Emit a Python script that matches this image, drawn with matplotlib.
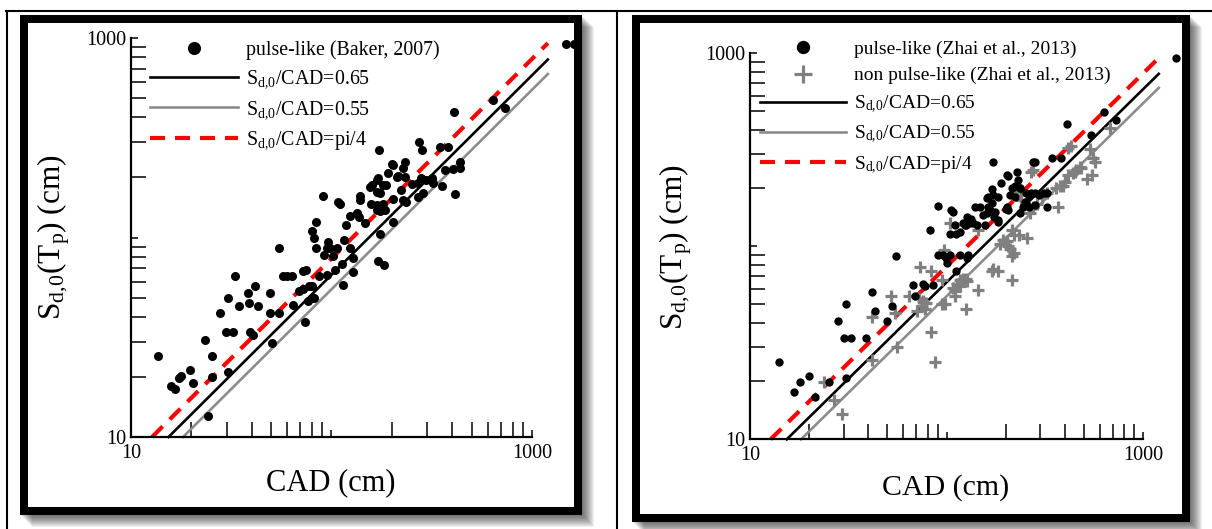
import numpy as np
import matplotlib
matplotlib.use('Agg')
import matplotlib.pyplot as plt
from matplotlib.patches import Rectangle
from matplotlib.lines import Line2D
from matplotlib.ticker import LogLocator, NullFormatter

plt.rcParams['font.family'] = ['Liberation Serif', 'DejaVu Serif']
plt.rcParams['mathtext.fontset'] = 'custom'
plt.rcParams['mathtext.rm'] = 'Liberation Serif'
plt.rcParams['mathtext.it'] = 'Liberation Serif:italic'

# ---- data (CAD in cm, Sd,0(Tp) in cm) ----
baker_cad = [13.7, 15.9, 16.6, 17.4, 17.8, 19.7, 20.4, 24.2, 23.4, 25.3, 25.3, 27.8, 29.8, 32.4,
             30.6, 30.4, 33.0, 34.6, 38.2, 38.9, 39.2, 40.5, 41.5, 43.1, 49.3, 49.3, 50.6, 54.9,
             54.7, 57.0, 59.8, 63.4, 64.1, 68.9, 72.4, 72.0, 75.0, 73.8, 76.6, 79.7, 82.0, 77.4,
             79.7, 79.7, 81.8, 83.7, 83.4, 86.7, 91.1, 91.8, 96.3, 98.3, 102, 106.4, 94.6, 94.6,
             104, 108, 110, 113, 115, 114, 118, 124, 124, 128.5, 128.5, 134, 137, 147, 139, 139,
             156, 160, 168, 175, 168, 157, 168, 181, 168, 175, 185, 171, 181, 188, 175, 171, 183,
             191, 201, 202, 203, 211, 215, 223, 228, 236, 228, 233, 251, 270, 281, 297, 316, 320,
             354, 270, 286, 413, 368, 403, 437, 437, 1479, 1620, 637, 733, 410, 274, 282, 347,
             380, 173, 203, 233]
baker_sd = [25.6, 18.1, 17.5, 19.8, 20.3, 21.7, 18.7, 12.7, 30.6, 25.6, 20.1, 42.0, 33.7, 33.7,
            50.0, 21.1, 64.0, 45.5, 53.0, 47.0, 33.5, 32.4, 57.0, 45.5, 53.0, 42.0, 29.7, 89.0,
            42.0, 64.0, 64.0, 64.0, 46.0, 54.0, 55.0, 68.0, 69.0, 37.6, 48.0, 50.0, 50.0, 57.0,
            57.0, 108, 99, 119, 89, 64, 162, 82, 95, 89, 81, 89, 89, 65,
            69, 151, 148, 74, 97, 58, 116, 128, 89, 79, 67, 133, 127, 118, 162, 154,
            180, 183, 170, 167, 194, 148, 146, 148, 137, 135, 137, 198, 183, 183, 104, 76, 73,
            211, 233, 119, 156, 202, 204, 173, 155, 151, 222, 240, 185, 187, 198, 194, 198, 187,
            181, 160, 167, 165, 218, 220, 222, 240, 929, 929, 489, 448, 427, 302, 275, 285,
            285, 275, 230, 202]

zhai_p_cad = [14.0, 16.7, 17.9, 20.0, 21.4, 25.2, 30.8, 28.1, 30.8, 30.2, 32.6, 38.9, 41.8, 43.2,
              49.6, 52.5, 55.3, 67.6, 69.1, 75.6, 77.6, 82.8, 90.6, 90.6, 95.4, 100.6, 104, 104,
              105, 108, 112, 117, 121, 126, 131.5, 136, 142, 117, 129, 139, 148, 157, 160, 166,
              171, 163, 160, 172, 183, 177, 183, 172, 190, 202, 202, 206, 210, 222, 222, 236,
              227, 250, 246, 410, 632, 723, 542, 276, 282, 344, 382, 1468, 205, 230, 215, 235,
              170, 163, 153, 175, 182, 200, 235, 252, 262, 268, 281, 295, 313, 324, 252, 262,
              281, 324, 127, 133, 110, 111, 124, 99, 127, 85]
zhai_p_sd = [25, 17.6, 19.9, 21.3, 16.6, 19.9, 20.8, 41, 50, 33.5, 33.5, 33.5, 58, 46,
             41, 49, 89, 63, 55, 64, 62, 121, 161, 90, 90, 82, 90, 116,
             154, 150, 74, 118, 131, 128, 131, 131, 128, 90, 90, 160, 160, 128, 148, 154,
             168, 180, 177, 185, 180, 151, 137, 274, 212, 234, 160, 154, 185, 180, 204, 200,
             243, 170, 160, 427, 492, 451, 377, 274, 274, 285, 285, 942, 230, 221, 200, 200,
             197, 160, 145, 142, 134, 155, 148, 189, 181, 189, 189, 185, 189, 189, 167, 160,
             164, 160, 142, 139, 128, 116, 128, 87, 87, 63]

zhai_np_cad = [23.8, 26.8, 29.3, 41.5, 41.8, 52.1, 54.6, 55.7, 64.7, 73.2, 83, 71, 74.6, 78.5,
               77.6, 83, 87.3, 94.5, 98.2, 97, 107.5, 110.3, 112.3, 117, 121.5, 126, 126, 144,
               145, 104, 172, 183, 194, 202, 206, 214, 220, 219, 214, 234, 255, 222, 227, 240,
               265, 276, 287, 305, 323, 367, 377, 400, 415, 440, 457, 485, 515, 546, 569, 275,
               414, 431, 536, 557, 678, 477, 450, 390, 362, 270, 95, 72.4, 75.8, 187, 210, 215,
               170, 127, 117, 110]
zhai_np_sd = [19.9, 16.0, 13.6, 43, 25.7, 55, 45, 30, 55, 78, 74, 46, 49, 51,
              47, 36, 25, 67, 50, 96, 61, 58.5, 64, 67, 68, 68, 47, 59,
              121, 131, 76, 74, 108, 106, 100, 121, 114, 92, 67, 114, 110, 192, 185, 174,
              148, 160, 166, 180, 188, 160, 204, 216, 234, 239, 248, 253, 222, 234, 274, 248,
              322, 329, 317, 285, 408, 258, 242, 204, 200, 243, 50, 54, 52, 103, 97, 89,
              74, 66, 62, 55]

ratios = [0.65, 0.55, np.pi / 4]
ratio_names = ['0.65', '0.55', 'pi/4']
line_end = 1200

W, H = 1212, 529


def fx(x):
    return x / W


def fy(y):
    return 1 - y / H


fig = plt.figure(figsize=(W / 100, H / 100), dpi=100)

# table lines
for xs, ys in [([6, W], [11, 11]), ([7, 7], [11, H]), ([617, 617], [11, H])]:
    fig.add_artist(Line2D([fx(v) for v in xs], [fy(v) for v in ys], color='black',
                          lw=1.5, transform=fig.transFigure))


def frame(x0, y0, x1, y1, t=8):
    for i in range(1, 13):
        fig.add_artist(Rectangle((fx(x0 + i), fy(y1 + i)), (x1 - x0) / W, (y1 - y0) / H,
                                 transform=fig.transFigure, facecolor='black', edgecolor='none',
                                 alpha=0.06, zorder=-3))
    fig.add_artist(Rectangle((fx(x0), fy(y1)), (x1 - x0) / W, (y1 - y0) / H,
                             transform=fig.transFigure, facecolor='white', edgecolor='none',
                             zorder=-2))
    fig.add_artist(Rectangle((fx(x0 + t / 2), fy(y1 - t / 2)), (x1 - x0 - t) / W, (y1 - y0 - t) / H,
                             transform=fig.transFigure, fill=False, edgecolor='black',
                             lw=t * 0.72, joinstyle='miter', zorder=3))


frame(20, 15, 582, 515)
frame(632, 15, 1190, 522)


def setup(ax):
    ax.set_xscale('log')
    ax.set_yscale('log')
    ax.set_xlim(10, 1700)
    ax.set_ylim(10, 1000)
    ax.patch.set_alpha(0)
    for s in ['top', 'right']:
        ax.spines[s].set_visible(False)
    for s in ['left', 'bottom']:
        ax.spines[s].set_linewidth(1.6)
    ax.spines['bottom'].set_bounds(10, 1000)
    ax.set_xticks([10, 100, 1000])
    ax.set_xticklabels(['10', '', '1000'])
    ax.set_yticks([10, 100, 1000])
    ax.set_yticklabels(['10', '', '1000'])
    for axis in [ax.xaxis, ax.yaxis]:
        axis.set_minor_locator(LogLocator(base=10, subs=np.arange(2, 10)))
        axis.set_minor_formatter(NullFormatter())
    ax.tick_params(which='both', direction='in', width=1.1, labelsize=14.5)
    ax.tick_params(which='major', length=5)
    ax.tick_params(which='minor', length=11)
    ax.tick_params(axis='x', pad=5)
    ax.tick_params(axis='y', pad=3)


def draw_lines(ax):
    hs = []
    styles = [dict(color='black', lw=1.9),
              dict(color='#8c8c8c', lw=1.9),
              dict(color='#ff0000', lw=3.0, dashes=(3.6, 2.4))]
    for r, name, st in zip(ratios, ratio_names, styles):
        x = np.array([10 / r, line_end])
        h, = ax.plot(x, r * x, clip_on=False,
                     label=r'$\mathrm{S_{d,\!0}}$/CAD=' + name, **st)
        hs.append(h)
    return hs


# left panel
ax1 = fig.add_axes([fx(131), fy(437), 447.2 / W, 399 / H])
setup(ax1)
lh = draw_lines(ax1)
p1, = ax1.plot(baker_cad, baker_sd, 'o', color='black', ms=6.5, mec='none', clip_on=False,
               label='pulse-like (Baker, 2007)')
ax1.legend([p1] + lh, [h.get_label() for h in [p1] + lh], loc='upper left',
           bbox_to_anchor=(fx(150), fy(40)), bbox_transform=fig.transFigure,
           frameon=False, borderpad=0, borderaxespad=0, handlelength=4.43,
           handletextpad=0.4, labelspacing=0.45, fontsize=14.3, numpoints=1, markerscale=1.45)
fig.text(fx(331), fy(483), 'CAD (cm)', fontsize=22, ha='center', va='center')
fig.text(fx(54), fy(237), r'$\mathrm{S_{d,\!0}(T_p)}$ (cm)', fontsize=22.5, rotation=90,
         ha='center', va='center')

# right panel
ax2 = fig.add_axes([fx(750), fy(439.3), 438.5 / W, 386.3 / H])
setup(ax2)
rh = draw_lines(ax2)
p2, = ax2.plot(zhai_np_cad, zhai_np_sd, '+', color='#808080', ms=8, mew=2.3, clip_on=False,
               label='non pulse-like (Zhai et al., 2013)')
p3, = ax2.plot(zhai_p_cad, zhai_p_sd, 'o', color='black', ms=6, mec='none', clip_on=False,
               label='pulse-like (Zhai et al., 2013)')
ax2.legend([p3, p2] + rh, [h.get_label() for h in [p3, p2] + rh], loc='upper left',
           bbox_to_anchor=(fx(760), fy(40)), bbox_transform=fig.transFigure,
           frameon=False, borderpad=0, borderaxespad=0, handlelength=4.4,
           handletextpad=0.41, labelspacing=0.47, fontsize=14, numpoints=1, markerscale=1.6)
fig.text(fx(946), fy(488), 'CAD (cm)', fontsize=21.5, ha='center', va='center')
fig.text(fx(676), fy(247), r'$\mathrm{S_{d,\!0}(T_p)}$ (cm)', fontsize=22.5, rotation=90,
         ha='center', va='center')

fig.savefig('out.png', dpi=100)
